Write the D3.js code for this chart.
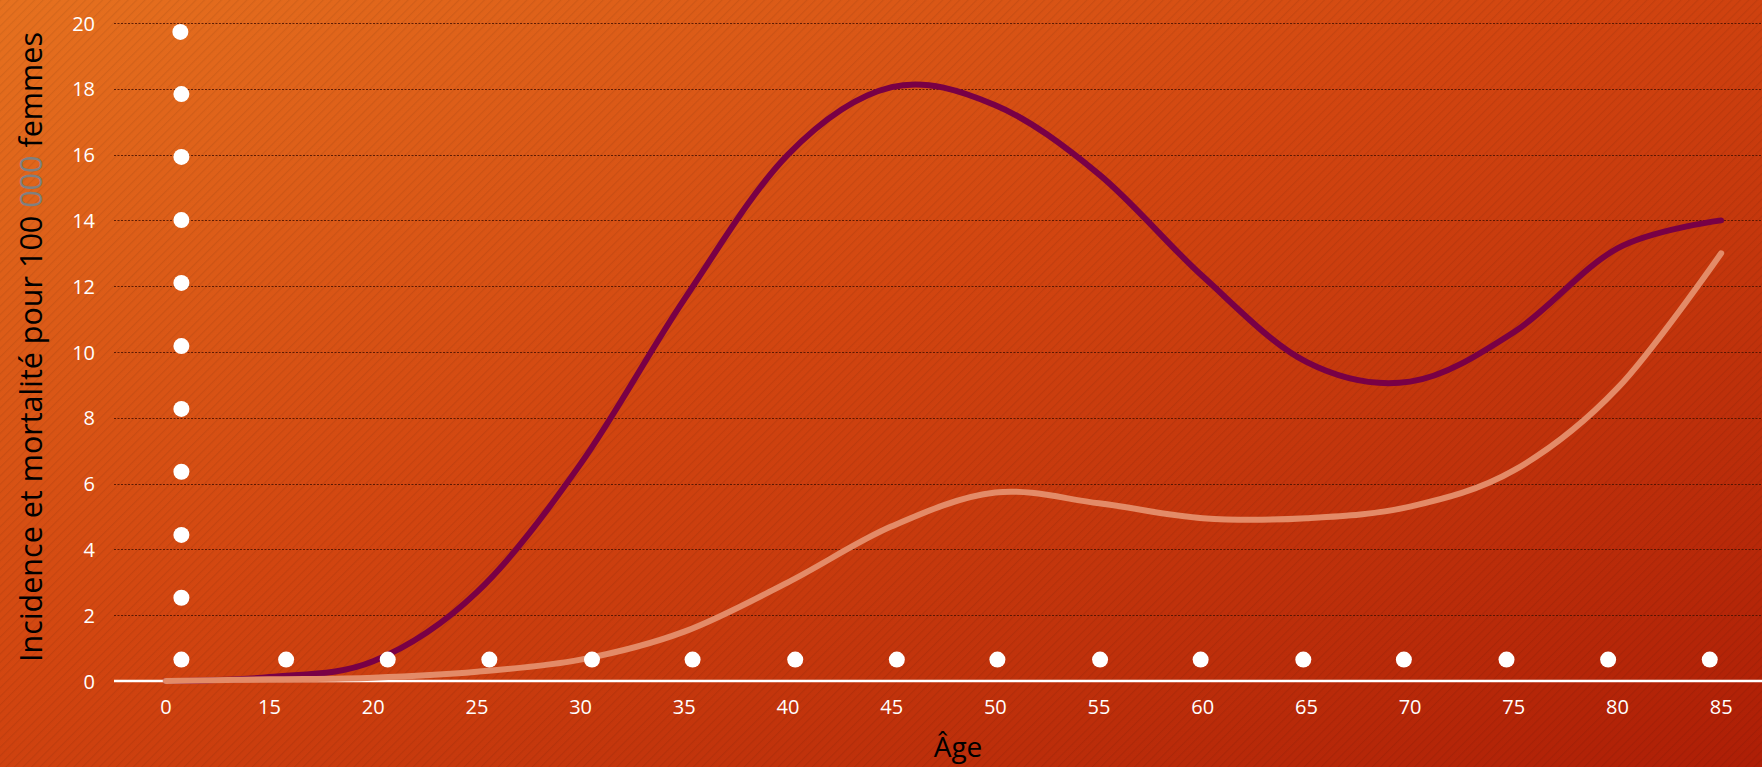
<!DOCTYPE html>
<html><head><meta charset="utf-8">
<script src="https://cdn.jsdelivr.net/npm/d3@7"></script>
<style>html,body{margin:0;padding:0;overflow:hidden;background:#c83c10}</style>
</head><body>
<svg id="c" width="1762" height="767"></svg>
<script>
// ---- data ----
const ages = ["0","15","20","25","30","35","40","45","50","55","60","65","70","75","80","85"];
const incidence = [0, 0.12, 0.6, 2.7, 6.6, 11.6, 16.0, 18.05, 17.5, 15.4, 12.3, 9.7, 9.1, 10.6, 13.15, 14.0];
const mortalite = [0, 0.05, 0.1, 0.28, 0.65, 1.5, 3.0, 4.7, 5.73, 5.4, 4.95, 4.95, 5.3, 6.4, 8.9, 13.0];
const yTicks = [0, 2, 4, 6, 8, 10, 12, 14, 16, 18, 20];
// decorative white dots (x in category-index units, y in axis units)
const dotColX = [0.14, 0.15, 0.15, 0.15, 0.15, 0.15, 0.15, 0.15, 0.15, 0.15];
const dotColY = [19.73, 17.84, 15.93, 14.01, 12.1, 10.18, 8.27, 6.36, 4.44, 2.53];
const dotRowX = [0.15, 1.16, 2.14, 3.12, 4.11, 5.08, 6.07, 7.05, 8.02, 9.01, 9.98, 10.97, 11.94, 12.93, 13.91, 14.89];
const dotRowY = 0.65;

const W = 1762, H = 767;
const svg = d3.select("#c");
const defs = svg.append("defs");
const grad = defs.append("linearGradient").attr("id","bg").attr("x1","0").attr("y1","0").attr("x2","1").attr("y2","1");
grad.append("stop").attr("offset","0%").attr("stop-color","#e6711f");
grad.append("stop").attr("offset","45%").attr("stop-color","#d24510");
grad.append("stop").attr("offset","100%").attr("stop-color","#ae1e06");
const pat = defs.append("pattern").attr("id","stripes").attr("patternUnits","userSpaceOnUse")
  .attr("width",6).attr("height",6).attr("patternTransform","rotate(45)");
pat.append("line").attr("x1",0).attr("y1",0).attr("x2",0).attr("y2",6)
  .attr("stroke","#000").attr("stroke-opacity",0.07).attr("stroke-width",2.5);
svg.append("rect").attr("width",W).attr("height",H).attr("fill","url(#bg)");
svg.append("rect").attr("width",W).attr("height",H).attr("fill","url(#stripes)");

const x = d3.scaleBand().domain(ages).range([114, 1773]).padding(0);
const xc = a => x(a) + x.bandwidth()/2;
const xi = d3.scaleLinear().domain([0, ages.length-1]).range([xc(ages[0]), xc(ages[ages.length-1])]);
const y = d3.scaleLinear().domain([0, 20]).range([681, 23]);

const font = "'Open Sans', 'Noto Sans', sans-serif";

// gridlines
svg.append("g").selectAll("line").data(yTicks.filter(d => d > 0)).join("line")
  .attr("x1",114).attr("x2",W).attr("y1",d=>Math.round(y(d))+0.5).attr("y2",d=>Math.round(y(d))+0.5)
  .attr("stroke","#4a1200").attr("stroke-opacity",0.85).attr("stroke-width",1).attr("stroke-dasharray","2,1.5");

// y axis labels
const yAxis = svg.append("g").attr("transform","translate(95,0)")
  .call(d3.axisLeft(y).tickValues(yTicks).tickSize(0).tickPadding(0));
yAxis.select(".domain").remove();
yAxis.selectAll("text").attr("fill","#fff").attr("font-family",font).attr("font-size",20)
  .attr("text-anchor","end").attr("dy","0.35em");

// x axis
const xAxis = svg.append("g").attr("transform","translate(0,681)")
  .call(d3.axisBottom(x).tickSize(0).tickPadding(19));
xAxis.select(".domain").remove();
xAxis.selectAll("text").attr("fill","#fff").attr("font-family",font).attr("font-size",20);
svg.append("line").attr("x1",114).attr("x2",W).attr("y1",y(0)).attr("y2",y(0))
  .attr("stroke","#fff").attr("stroke-width",2.5);

// lines
const curve = d3.curveCatmullRom.alpha(0);
const line = d3.line().x((d,i)=>xc(ages[i])).y(d=>y(d)).curve(curve);
svg.append("path").datum(incidence).attr("d",line).attr("fill","none")
  .attr("stroke","#780046").attr("stroke-width",6).attr("stroke-linecap","round");
svg.append("path").datum(mortalite).attr("d",line).attr("fill","none")
  .attr("stroke","#e38b68").attr("stroke-width",6).attr("stroke-linecap","round");

// dots
const dots = svg.append("g").attr("fill","#fff");
dots.selectAll("circle.col").data(dotColX.map((d,i)=>[d, dotColY[i]])).join("circle")
  .attr("class","col").attr("cx",d=>xi(d[0])).attr("cy",d=>y(d[1])).attr("r",8);
dots.selectAll("circle.row").data(dotRowX).join("circle")
  .attr("class","row").attr("cx",d=>xi(d)).attr("cy",y(dotRowY)).attr("r",8);

// axis titles
svg.append("text").attr("x",958).attr("y",757).attr("text-anchor","middle")
  .attr("font-family",font).attr("font-size",28).attr("fill","#000").text("Âge");
const yt = svg.append("text").attr("transform","translate(42,347) rotate(-90)")
  .attr("text-anchor","middle").attr("font-family",font).attr("font-size",30.5).attr("fill","#000");
yt.append("tspan").text("Incidence et mortalité pour 100 ");
yt.append("tspan").attr("fill","#808080").text("000");
yt.append("tspan").text(" femmes");
</script>
</body></html>
